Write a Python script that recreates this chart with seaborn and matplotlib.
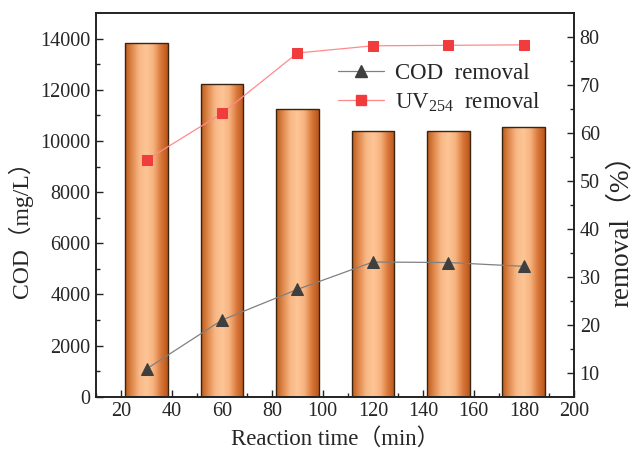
import numpy as np
import seaborn as sns
import matplotlib.pyplot as plt
from matplotlib.colors import LinearSegmentedColormap
from matplotlib.lines import Line2D

# data
reaction_time = [30, 60, 90, 120, 150, 180]
cod_mgL = [13830, 12250, 11260, 10375, 10390, 10530]
cod_removal = [10.8, 21.0, 27.4, 33.1, 33.0, 32.2]
uv254_removal = [54.4, 64.1, 76.7, 78.2, 78.3, 78.4]

sns.set_theme(style='ticks')
plt.rcParams['font.family'] = ['Liberation Serif', 'Noto Sans CJK SC']
plt.rcParams['mathtext.fontset'] = 'custom'
plt.rcParams['mathtext.rm'] = 'Liberation Serif'

fig = plt.figure(figsize=(6.33, 4.55), dpi=100)
ax = fig.add_axes([0.152, 0.128, 0.755, 0.843])

sns.barplot(x=reaction_time, y=cod_mgL, native_scale=True, width=17 / 30,
            color='#d07030', edgecolor='#3a2410', linewidth=1.0, ax=ax, zorder=2)

# cylindrical shading for the bars
bar_cmap = LinearSegmentedColormap.from_list(
    'copper_bar', ['#bd5a1c', '#e08a4e', '#f8b886', '#fdc596', '#f6b27e', '#d9783a', '#b9561a'])
grad = np.linspace(0, 1, 256).reshape(1, -1)
for patch in ax.patches:
    x0, y0 = patch.get_x(), patch.get_y()
    w, h = patch.get_width(), patch.get_height()
    patch.set_facecolor('none')
    im = ax.imshow(grad, cmap=bar_cmap, aspect='auto', extent=[x0, x0 + w, y0, y0 + h],
                   zorder=1.5, interpolation='bicubic')
    im.set_clip_path(patch)

ax.set_xlim(10, 200)
ax.set_ylim(0, 15000)
ax.set_xticks(range(20, 201, 20))
ax.set_xticks(range(10, 200, 20), minor=True)
ax.set_yticks(range(0, 14001, 2000))
ax.set_yticks(range(1000, 15000, 2000), minor=True)

ax2 = ax.twinx()
sns.lineplot(x=reaction_time, y=cod_removal, color='#808080', linewidth=0.9,
             marker='^', markersize=9, markerfacecolor='#3f3f3f', markeredgecolor='#3f3f3f',
             ax=ax2)
sns.lineplot(x=reaction_time, y=uv254_removal, color='#ff8a8a', linewidth=0.9,
             marker='s', markersize=7.5, markerfacecolor='#f03c3c', markeredgecolor='#f03c3c',
             ax=ax2)
ax2.set_ylim(5, 85)
ax2.set_yticks(range(10, 81, 10))
ax2.set_yticks(range(15, 85, 10), minor=True)

for a in (ax, ax2):
    a.tick_params(which='both', direction='in', labelsize=14.5, color='#222222', width=1.0)
    a.tick_params(which='major', length=5, pad=4)
    a.tick_params(which='minor', length=3)
    for s in a.spines.values():
        s.set_linewidth(1.2)
        s.set_color('#222222')

ax.set_xlabel('Reaction time（min）', fontsize=16.5, labelpad=5)
ax.set_ylabel('COD（mg/L）', fontsize=17, labelpad=5)
ax.yaxis.label.set_y(0.45)
ax2.set_ylabel('removal（%）', fontsize=19.5, labelpad=6)
ax2.yaxis.label.set_y(0.45)

handles = [
    Line2D([], [], color='#808080', linewidth=0.9, marker='^', markersize=9,
           markerfacecolor='#3f3f3f', markeredgecolor='#3f3f3f'),
    Line2D([], [], color='#ff8a8a', linewidth=0.9, marker='s', markersize=7.5,
           markerfacecolor='#f03c3c', markeredgecolor='#f03c3c'),
]
ax2.legend(handles, ['COD  removal', 'UV$_{254}$  removal'], frameon=False, fontsize=16.5,
           loc='upper left', bbox_to_anchor=(0.477, 0.905), handlelength=2.0,
           handletextpad=0.5, labelspacing=0.25, borderaxespad=0.2)

fig.savefig('out.png', dpi=100)
